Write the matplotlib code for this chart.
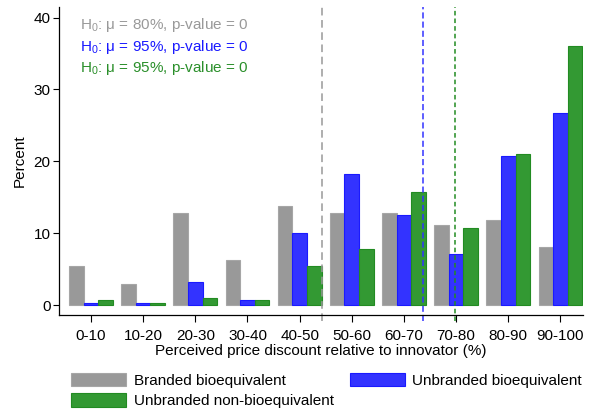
import numpy as np
import matplotlib
matplotlib.use("Agg")
import matplotlib.pyplot as plt

plt.rcParams['font.family'] = ['Liberation Sans', 'DejaVu Sans']
plt.rcParams['mathtext.fontset'] = 'custom'
plt.rcParams['mathtext.rm'] = 'Liberation Sans'
plt.rcParams['mathtext.it'] = 'Liberation Sans'

# discount bins and shares (percent) per product type
bins = ['0-10', '10-20', '20-30', '30-40', '40-50',
        '50-60', '60-70', '70-80', '80-90', '90-100']
branded_bio = [5.5, 3.0, 12.8, 6.3, 13.8, 12.8, 12.8, 11.1, 11.9, 8.1]
unbranded_bio = [0.3, 0.3, 3.2, 0.7, 10.0, 18.2, 12.5, 7.2, 20.7, 26.7]
unbranded_nonbio = [0.7, 0.3, 1.0, 0.7, 5.5, 7.8, 15.8, 10.7, 21.0, 36.1]
series_names = ['Branded bioequivalent', 'Unbranded bioequivalent',
                'Unbranded non-bioequivalent']

# mean perceived discount (%) for each series, and test labels
means = [49.3, 68.6, 74.7]
tests = ['H$_0$: μ = 80%, p-value = 0',
         'H$_0$: μ = 95%, p-value = 0',
         'H$_0$: μ = 95%, p-value = 0']

fill_colors = ['#999999', '#3333ff', '#339933']
edge_colors = ['#a6a6a6', '#1a1aff', '#228b22']
line_colors = ['#999999', '#3333ff', '#228b22']
text_colors = ['#999999', '#1a1aff', '#2a8f2a']

fig = plt.figure(figsize=(5.94, 4.13), dpi=100)
ax = fig.add_axes([0.0993, 0.238, 0.882, 0.744])

x = np.arange(len(bins))
w = 0.28
handles = []
for k, vals in enumerate([branded_bio, unbranded_bio, unbranded_nonbio]):
    h = ax.bar(x + (k - 1) * w, vals, width=w, color=fill_colors[k],
               edgecolor=edge_colors[k], linewidth=0.8, label=series_names[k])
    handles.append(h)

dashes = [(0, (5, 3)), (0, (4, 2)), (0, (3, 2))]
for k, m in enumerate(means):
    ax.axvline((m - 5) / 10.0, color=line_colors[k],
               linestyle=dashes[k], linewidth=1.1, ymin=-0.02, clip_on=False)

for k, t in enumerate(tests):
    fig.text(80 / 594, 1 - (25 + 21.7 * k) / 413, t, color=text_colors[k],
             fontsize=11, va='center', ha='left')

ax.set_xlim(-0.613, 9.43)
ax.set_ylim(-1.3, 41.4)
ax.set_xticks(x)
ax.set_xticklabels(bins, fontsize=11)
ax.set_yticks([0, 10, 20, 30, 40])
ax.tick_params(axis='y', labelsize=11, length=4, width=0.8, pad=2)
ax.tick_params(axis='x', length=5, width=0.8, pad=5)
for s in ['top', 'right']:
    ax.spines[s].set_visible(False)
ax.spines['left'].set_linewidth(0.9)
ax.spines['bottom'].set_linewidth(0.9)

ax.set_xlabel('Perceived price discount relative to innovator (%)',
              fontsize=11, labelpad=1)
ax.set_ylabel('Percent', fontsize=11, labelpad=5)

fig.legend([handles[0], handles[2], handles[1]],
           [series_names[0], series_names[2], series_names[1]],
           ncol=2, loc='upper left', bbox_to_anchor=(71 / 594, 1 - 372.7 / 413),
           frameon=False, fontsize=11, borderpad=0, borderaxespad=0,
           handlelength=3.6, handleheight=0.98, handletextpad=0.5,
           labelspacing=0.37, columnspacing=1.05)

fig.savefig('out.png', dpi=100)
